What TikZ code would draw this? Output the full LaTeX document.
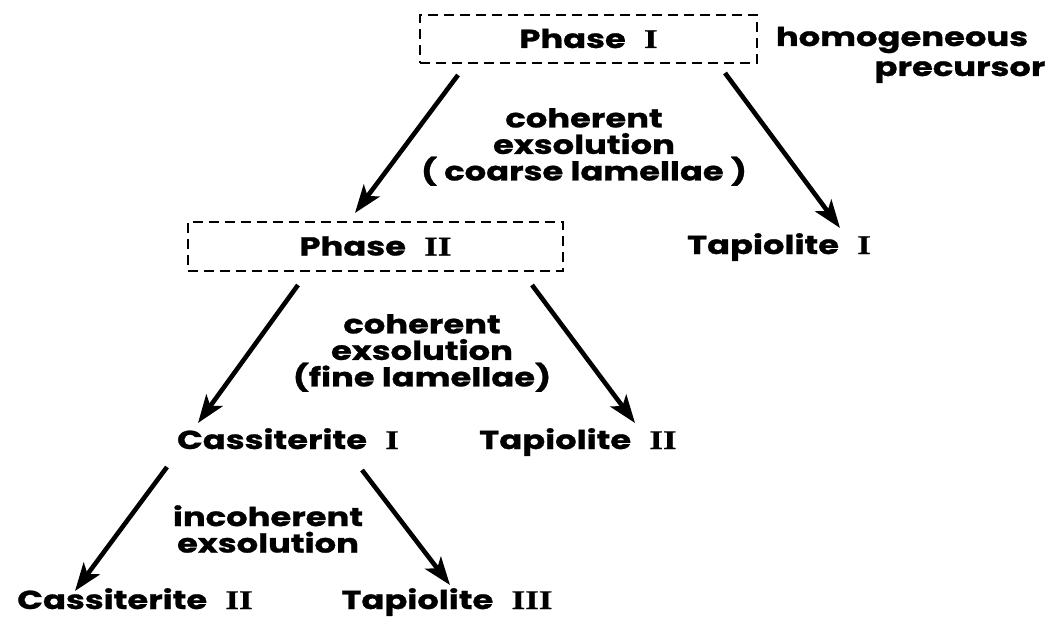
\documentclass[tikz,border=0pt]{standalone}
\usepackage{fontspec}
\setmainfont{Poppins}[FakeStretch=1.3, BoldFeatures={FakeBold=1}]
\newfontfamily\romfont{Liberation Serif}[FakeStretch=1.3, BoldFeatures={FakeBold=0.6}]
\usetikzlibrary{arrows.meta,calc}
\newcommand{\romnum}[1]{\hspace{0.7em}{\romfont\bfseries\fontsize{27}{27}\selectfont #1}}
\begin{document}
\begin{tikzpicture}[x=1pt,y=-1pt,
  txt/.style={font=\bfseries\fontsize{26}{26.5}\selectfont, inner sep=0pt},
  lab/.style={txt, text height=18pt, text depth=0pt},
  phasebox/.style={lab, draw, line width=1.6pt, dash pattern=on 10pt off 6pt},
  note/.style={txt, align=center},
  arr/.style={line width=4.6pt, -{Stealth[length=28pt,width=20pt,inset=7pt]}}
]
\fill[white] (0,0) rectangle (1055,618);
\useasboundingbox (0,0) rectangle (1055,618);

\node[phasebox, minimum width=337pt, minimum height=48pt] (p1) at (588.5,39) {Phase\romnum{I}\hspace{14pt}};
\node[phasebox, minimum width=375pt, minimum height=49pt] (p2) at (375.5,246.5) {Phase\romnum{II}};
\node[lab] (hom) at (902,37) {homogeneous};
\node[lab] (prec) at (960,67) {precursor};
\node[note] (coarse) at (584,147) {coherent\\exsolution\\( coarse lamellae )};
\node[lab] (t1) at (779,245) {Tapiolite\romnum{I}};
\node[note] (fine) at (422,353) {coherent\\exsolution\\(fine lamellae)};
\node[lab] (c1) at (288,440) {Cassiterite\romnum{I}};
\node[lab] (t2) at (578,440) {Tapiolite\romnum{II}};
\node[note] (incoh) at (268,529) {incoherent\\exsolution};
\node[lab] (c2) at (135,600) {Cassiterite\romnum{II}};
\node[lab] (t3) at (447,600) {Tapiolite\romnum{III}};

\draw[arr] ($(p1)+(-130.5,36)$) -- ($(p2)+(-20.5,-33.5)$);
\draw[arr] ($(p1)+(136.5,34)$) -- ($(t1)+(61,-17)$);
\draw[arr] ($(p2)+(-77.5,38.5)$) -- ($(c1)+(-90,-17)$);
\draw[arr] ($(p2)+(156.5,38.5)$) -- ($(t2)+(57,-17)$);
\draw[arr] ($(c1)+(-121,27)$) -- ($(c2)+(-60,-9)$);
\draw[arr] ($(c1)+(74,30)$) -- ($(t3)+(3,-15)$);
\end{tikzpicture}
\end{document}
